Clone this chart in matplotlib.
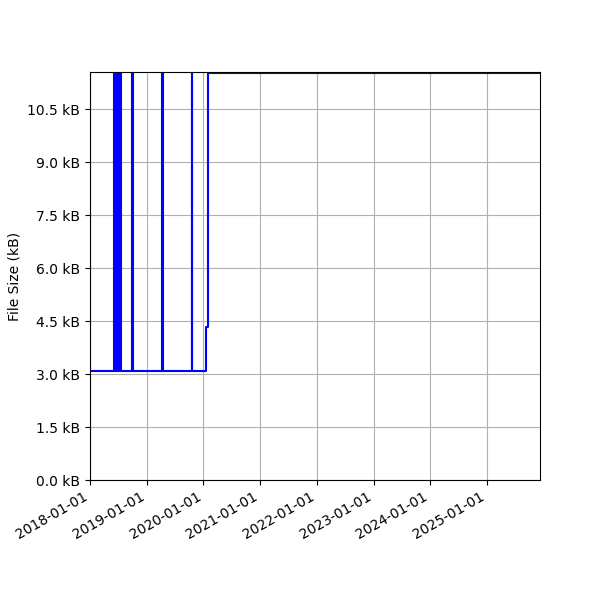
import matplotlib
matplotlib.use('Agg')
import matplotlib.pyplot as plt
import matplotlib.dates as mdates
from matplotlib.ticker import MultipleLocator, FuncFormatter
import pandas as pd

# File size history (kB), step changes
change_dates = [
    '2018-01-01',
    '2018-06-06', '2018-06-13', '2018-06-19', '2018-06-26',
    '2018-07-02', '2018-07-09', '2018-07-15', '2018-07-22',
    '2018-09-28', '2018-10-02',
    '2019-04-11', '2019-04-13',
    '2019-10-21', '2019-10-23',
    '2020-01-15', '2020-02-02',
    '2025-12-08',
]
sizes_kb = [
    3.10,
    11.80, 3.10, 11.80, 3.10,
    11.80, 3.10, 11.80, 3.10,
    11.80, 3.10,
    11.80, 3.10,
    11.80, 3.10,
    4.33, 11.52,
    11.52,
]

x_start = '2018-01-01'
x_end = '2025-12-08'
y_top = 11.56

dates = pd.to_datetime(change_dates)

fig = plt.figure(figsize=(6, 6), dpi=100)
ax = fig.add_axes([0.15, 0.2, 0.75, 0.68])

ax.step(dates, sizes_kb, where='post', color='blue', linewidth=1.5)

ax.set_xlim(pd.Timestamp(x_start), pd.Timestamp(x_end))
ax.set_ylim(0, y_top)

ax.xaxis.set_major_locator(mdates.YearLocator())
ax.xaxis.set_major_formatter(mdates.DateFormatter('%Y-%m-%d'))
ax.yaxis.set_major_locator(MultipleLocator(1.5))
ax.yaxis.set_major_formatter(FuncFormatter(lambda v, p: f'{v:.1f} kB'))

ax.set_ylabel('File Size (kB)')
ax.grid(True)

for lbl in ax.get_xticklabels():
    lbl.set_rotation(30)
    lbl.set_ha('right')

plt.savefig('out.png', dpi=100)
